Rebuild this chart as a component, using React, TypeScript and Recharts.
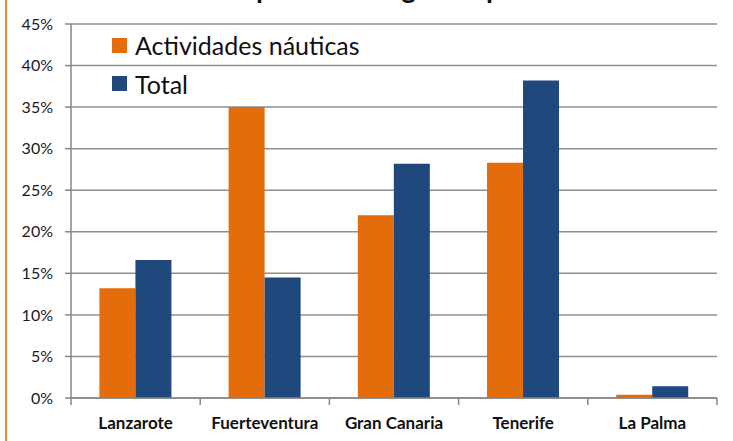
import { BarChart, Bar, XAxis, YAxis, CartesianGrid, Legend } from 'recharts'

const CATEGORIES = ['Lanzarote', 'Fuerteventura', 'Gran Canaria', 'Tenerife', 'La Palma']
const NAUTICAS = [13.2, 35.0, 22.0, 28.3, 0.4]
const TOTAL = [16.6, 14.5, 28.2, 38.2, 1.4]
const Y_TICKS = [0, 5, 10, 15, 20, 25, 30, 35, 40, 45]
const SERIES = [
  { key: 'nauticas', name: 'Actividades náuticas', color: '#E46C0A' },
  { key: 'total', name: 'Total', color: '#1F497D' },
]

const W = 733
const H = 441
const MARGIN = { top: 24, right: 16, bottom: 0, left: 0 }
const Y_WIDTH = 71
const BAND = (W - Y_WIDTH - MARGIN.right) / CATEGORIES.length
const AXIS = '#868686'
const FONT = 'Lato, "Noto Sans", sans-serif'

const data = CATEGORIES.map((c, i) => ({ name: c, nauticas: NAUTICAS[i], total: TOTAL[i] }))

function CategoryTick(props: any) {
  const { x, y, payload, index } = props
  const last = index === CATEGORIES.length - 1
  return (
    <g>
      <line x1={x - BAND / 2} x2={x - BAND / 2} y1={y} y2={y + 7} stroke={AXIS} strokeWidth={1.5} />
      {last && <line x1={x + BAND / 2} x2={x + BAND / 2} y1={y} y2={y + 7} stroke={AXIS} strokeWidth={1.5} />}
      <text x={x} y={y + 31} textAnchor="middle" fontSize={17} fontWeight={700} fill="#111" fontFamily={FONT}>
        {payload.value}
      </text>
    </g>
  )
}

function LegendBox() {
  return (
    <div style={{ fontFamily: FONT, fontSize: 25, color: '#111' }}>
      {SERIES.map(s => (
        <div key={s.key} style={{ display: 'flex', alignItems: 'center', height: 38.5, lineHeight: '38.5px' }}>
          <span style={{ display: 'inline-block', width: 15, height: 15, background: s.color, marginRight: 8 }} />
          <span>{s.name}</span>
        </div>
      ))}
    </div>
  )
}

export default function App() {
  return (
    <div style={{ position: 'absolute', left: 0, top: 0, width: W, height: H, overflow: 'hidden', background: '#fff' }}>
      <div style={{ position: 'absolute', left: 5, top: 0, width: 2, height: H, background: '#ef8b47' }} />
      {/* chart title sits above the visible frame, only its descenders show */}
      <svg width={W} height={H} style={{ position: 'absolute', left: 0, top: 0 }}>
        <text y={-2} fontSize={28} fontWeight={700} fill="#111" fontFamily={FONT}>
          <tspan x={95}>Distribución </tspan>
          <tspan x={256}>por islas </tspan>
          <tspan x={374}>según la </tspan>
          <tspan x={486}>práctica</tspan>
        </text>
      </svg>
      <div style={{ position: 'absolute', left: 0, top: 0 }}>
        <BarChart width={W} height={H} data={data} margin={MARGIN} barCategoryGap="22%" barGap={0}>
          <CartesianGrid vertical={false} stroke="#8e8e8e" strokeWidth={1.5} />
          <XAxis
            dataKey="name"
            height={43}
            axisLine={{ stroke: AXIS, strokeWidth: 1.5 }}
            tickLine={false}
            tickSize={0}
            tickMargin={0}
            interval={0}
            tick={<CategoryTick />}
          />
          <YAxis
            width={Y_WIDTH}
            domain={[0, 45]}
            ticks={Y_TICKS}
            tickFormatter={(v: number) => `${v}%`}
            axisLine={{ stroke: AXIS, strokeWidth: 1.5 }}
            tickLine={{ stroke: AXIS, strokeWidth: 1.5 }}
            tickSize={6}
            tickMargin={12}
            tick={{ fontSize: 16, fill: '#1a1a1a', fontFamily: FONT }}
          />
          <Legend
            layout="horizontal"
            verticalAlign="middle"
            align="center"
            content={<LegendBox />}
            wrapperStyle={{ left: 112, top: 26, width: 'auto', height: 'auto' }}
          />
          {SERIES.map(s => (
            <Bar key={s.key} dataKey={s.key} name={s.name} fill={s.color} isAnimationActive={false} />
          ))}
        </BarChart>
      </div>
    </div>
  )
}
